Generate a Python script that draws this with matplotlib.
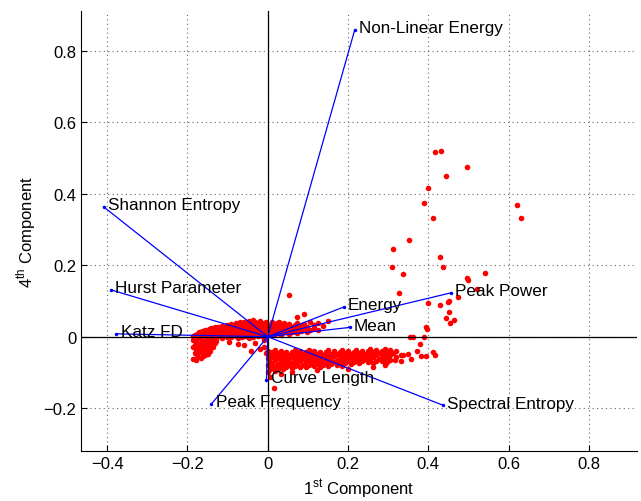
import matplotlib
matplotlib.use("Agg")
import matplotlib.pyplot as plt

plt.rcParams['font.family'] = ['Liberation Sans', 'DejaVu Sans']

# variable loadings (1st component, 4th component)
var_names = ['Non-Linear Energy', 'Shannon Entropy', 'Hurst Parameter', 'Katz FD',
             'Energy', 'Mean', 'Peak Power', 'Spectral Entropy', 'Curve Length',
             'Peak Frequency']
load_pc1 = [0.217, -0.409, -0.390, -0.377, 0.189, 0.204, 0.457, 0.437, -0.003, -0.140]
load_pc4 = [0.860, 0.364, 0.131, 0.008, 0.083, 0.026, 0.123, -0.192, -0.120, -0.188]

# observation scores, upper cluster: (pc1, [pc4 values])
upper_rows = [
    (-0.185, [0.002, -0.010, -0.030, -0.062]), (-0.182, [-0.022, -0.045, 0.006]),
    (-0.179, [-0.035, -0.012, -0.066]), (-0.176, [0.008, -0.018, -0.052]),
    (-0.173, [-0.030, -0.003, -0.058]), (-0.170, [0.012, -0.040, -0.020]),
    (-0.167, [-0.025, -0.060, 0.004]), (-0.164, [-0.008, 0.015, -0.045]),
    (-0.161, [-0.033, -0.055, 0.010]), (-0.158, [-0.015, 0.004, -0.040]),
    (-0.155, [0.020, -0.028, -0.050]), (-0.152, [-0.005, 0.010, -0.036]),
    (-0.149, [-0.020, 0.016, -0.048]), (-0.146, [0.022, -0.032, 0.000]),
    (-0.143, [-0.012, 0.016, -0.040]), (-0.140, [0.025, -0.022, 0.005]),
    (-0.136, [-0.008, 0.018, -0.030]), (-0.132, [0.002, 0.014, 0.027, -0.018]),
    (-0.128, [-0.004, 0.009, 0.021, -0.012]), (-0.124, [0.004, 0.017, 0.026]),
    (-0.118, [0.002, 0.014, 0.027]), (-0.113, [-0.004, 0.009, 0.021, 0.030]),
    (-0.108, [0.004, 0.017, 0.026]), (-0.102, [-0.002, 0.011, 0.023, 0.033]),
    (-0.097, [0.006, 0.019, 0.029, -0.015]), (-0.091, [0.000, 0.013, 0.025, 0.035]),
    (-0.086, [0.008, 0.020, 0.031]), (-0.080, [0.002, 0.015, 0.027, 0.037]),
    (-0.075, [-0.003, 0.010, 0.022, 0.033, -0.020]), (-0.069, [0.005, 0.017, 0.029, 0.040]),
    (-0.064, [0.000, 0.012, 0.024, 0.036]), (-0.058, [0.007, 0.019, 0.031, 0.042, -0.024]),
    (-0.053, [0.002, 0.014, 0.026, 0.038]), (-0.047, [-0.004, 0.009, 0.021, 0.033, 0.044]),
    (-0.042, [0.004, 0.016, 0.028, 0.039, -0.040]), (-0.036, [0.000, 0.011, 0.023, 0.035, 0.046]),
    (-0.031, [0.006, 0.018, 0.030, 0.041, -0.018]), (-0.025, [0.002, 0.013, 0.025, 0.037]),
    (-0.020, [0.008, 0.020, 0.032, 0.043, -0.035]), (-0.014, [0.003, 0.015, 0.027, 0.038]),
    (-0.009, [0.010, 0.022, 0.034, -0.028, -0.008]), (-0.003, [0.005, 0.017, 0.029, 0.040, -0.045]),
    (0.004, [0.008, 0.021, 0.034]), (0.010, [0.014, 0.027, 0.040]),
    (0.016, [0.004, 0.018, 0.031]), (0.022, [0.010, 0.024, 0.037]),
    (0.028, [0.015, 0.029, 0.041]), (0.034, [0.006, 0.020, 0.033]),
    (0.040, [0.012, 0.025, 0.038]), (0.047, [0.017, 0.030]),
    (0.053, [0.008, 0.022, 0.035, 0.118]), (0.060, [0.014, 0.028]),
    (0.067, [0.019, 0.033]), (0.074, [0.010, 0.025, 0.038, 0.055]),
    (0.082, [0.016, 0.030]), (0.090, [0.022, 0.036, 0.064]),
    (0.098, [0.012, 0.028]), (0.106, [0.020, 0.040]),
    (0.115, [0.025, 0.034]), (0.125, [0.018, 0.038]),
    (0.138, [0.030]), (0.150, [0.044]),
]

# observation scores, lower cluster
lower_rows = [
    (0.000, [-0.040, -0.060, -0.080, -0.100]), (0.005, [-0.050, -0.070, -0.090, -0.112]),
    (0.011, [-0.043, -0.058, -0.074, -0.088]), (0.016, [-0.143]),
    (0.018, [-0.038, -0.052, -0.066, -0.081, -0.095]), (0.025, [-0.045, -0.060, -0.075, -0.089]),
    (0.032, [-0.040, -0.054, -0.068, -0.083, -0.105]), (0.039, [-0.048, -0.062, -0.077, -0.091]),
    (0.046, [-0.042, -0.056, -0.071, -0.085]), (0.053, [-0.050, -0.064, -0.079]),
    (0.060, [-0.043, -0.058, -0.073, -0.087, -0.098]), (0.067, [-0.038, -0.052, -0.066, -0.081]),
    (0.074, [-0.046, -0.060, -0.075]), (0.081, [-0.040, -0.055, -0.069, -0.084]),
    (0.088, [-0.049, -0.063, -0.078]), (0.095, [-0.043, -0.057, -0.072, -0.086]),
    (0.102, [-0.037, -0.051, -0.066, -0.080]), (0.109, [-0.045, -0.060, -0.074]),
    (0.116, [-0.039, -0.054, -0.068, -0.083]), (0.123, [-0.048, -0.062, -0.077, -0.092]),
    (0.130, [-0.042, -0.056, -0.071, -0.085]), (0.137, [-0.050, -0.065, -0.079]),
    (0.144, [-0.044, -0.059, -0.073]), (0.151, [-0.038, -0.053, -0.067, -0.082]),
    (0.158, [-0.047, -0.061, -0.076]), (0.165, [-0.041, -0.055, -0.070]),
    (0.172, [-0.049, -0.064, -0.078]), (0.179, [-0.043, -0.058, -0.072]),
    (0.186, [-0.037, -0.052, -0.066, -0.081]), (0.193, [-0.046, -0.060, -0.074]),
    (0.200, [-0.040, -0.054, -0.069, -0.090]), (0.207, [-0.048, -0.063, -0.077]),
    (0.214, [-0.042, -0.057, -0.071]), (0.221, [-0.036, -0.051, -0.065]),
    (0.228, [-0.045, -0.059, -0.074]), (0.235, [-0.039, -0.053, -0.068]),
    (0.242, [-0.047, -0.062]), (0.249, [-0.041, -0.056, -0.070]),
    (0.256, [-0.035, -0.050, -0.064]), (0.263, [-0.044, -0.058, -0.073, -0.085]),
    (0.270, [-0.038, -0.052, -0.067]), (0.277, [-0.046, -0.061]),
    (0.284, [-0.040, -0.055, -0.069]), (0.291, [-0.034, -0.049, -0.063, -0.078]),
    (0.298, [-0.043, -0.058, -0.072]), (0.305, [-0.037, -0.052, -0.066]),
    (0.312, [-0.046]), (0.317, [-0.066]), (0.320, [-0.040, -0.058]),
    (0.331, [-0.050, -0.069]), (0.337, [-0.050]), (0.349, [-0.048]),
    (0.358, [-0.061]), (0.371, [-0.039]), (0.380, [-0.019]),
    (0.382, [-0.053]), (0.394, [-0.054]), (0.412, [-0.044]), (0.417, [-0.052]),
]

# scattered outliers, upper right
outlier_pc1 = [0.418, 0.432, 0.497, 0.443, 0.399, 0.390, 0.412, 0.351, 0.312, 0.430,
               0.309, 0.437, 0.337, 0.541, 0.496, 0.498, 0.522, 0.326, 0.473, 0.452,
               0.449, 0.399, 0.428, 0.451, 0.443, 0.464, 0.454, 0.394, 0.396, 0.355,
               0.361, 0.390, 0.621, 0.631]
outlier_pc4 = [0.517, 0.519, 0.474, 0.449, 0.417, 0.375, 0.331, 0.271, 0.245, 0.222,
               0.196, 0.194, 0.175, 0.178, 0.164, 0.159, 0.134, 0.122, 0.112, 0.101,
               0.097, 0.093, 0.090, 0.070, 0.053, 0.046, 0.037, 0.027, 0.022, -0.002,
               0.000, -0.002, 0.369, 0.332]

score_pc1, score_pc4 = [], []
for rows in (upper_rows, lower_rows):
    for x, ys in rows:
        for y in ys:
            score_pc1.append(x)
            score_pc4.append(y)
score_pc1 += outlier_pc1
score_pc4 += outlier_pc4

fig = plt.figure(figsize=(6.41, 5.02), dpi=100)
ax = fig.add_axes([0.1264, 0.0996, 0.8674, 0.8765])

ax.set_xlim(-0.465, 0.92)
ax.set_ylim(-0.32, 0.912)

ax.axhline(0, color='black', lw=0.9, zorder=3)
ax.axvline(0, color='black', lw=0.9, zorder=3)

ax.plot(score_pc1, score_pc4, 'o', color='red', markersize=4.0, mew=0, zorder=2)

for name, x, y in zip(var_names, load_pc1, load_pc4):
    ax.plot([0, x], [0, y], color='blue', lw=0.9, zorder=3)
    ax.plot(x, y, 'o', color='blue', markersize=2.5, mew=0, zorder=3)
    ax.annotate(name, (x, y), xytext=(3, 1.5), textcoords='offset points',
                va='center', ha='left', fontsize=12.3, zorder=4)

ax.set_xticks([-0.4, -0.2, 0, 0.2, 0.4, 0.6, 0.8])
ax.set_xticklabels(['\u22120.4', '\u22120.2', '0', '0.2', '0.4', '0.6', '0.8'])
ax.set_yticks([-0.2, 0, 0.2, 0.4, 0.6, 0.8])
ax.set_yticklabels(['\u22120.2', '0', '0.2', '0.4', '0.6', '0.8'])
ax.tick_params(direction='in', length=4, labelsize=12, top=False, right=False)
ax.grid(True, color='#666666', linestyle=(0, (1, 3)), lw=0.8)
ax.set_axisbelow(True)

for side in ('top', 'right'):
    ax.spines[side].set_visible(False)

ax.set_xlabel('1$^{\\mathregular{st}}$ Component', fontsize=12)
ax.set_ylabel('4$^{\\mathregular{th}}$ Component', fontsize=12)

fig.savefig('out.png', dpi=100)
